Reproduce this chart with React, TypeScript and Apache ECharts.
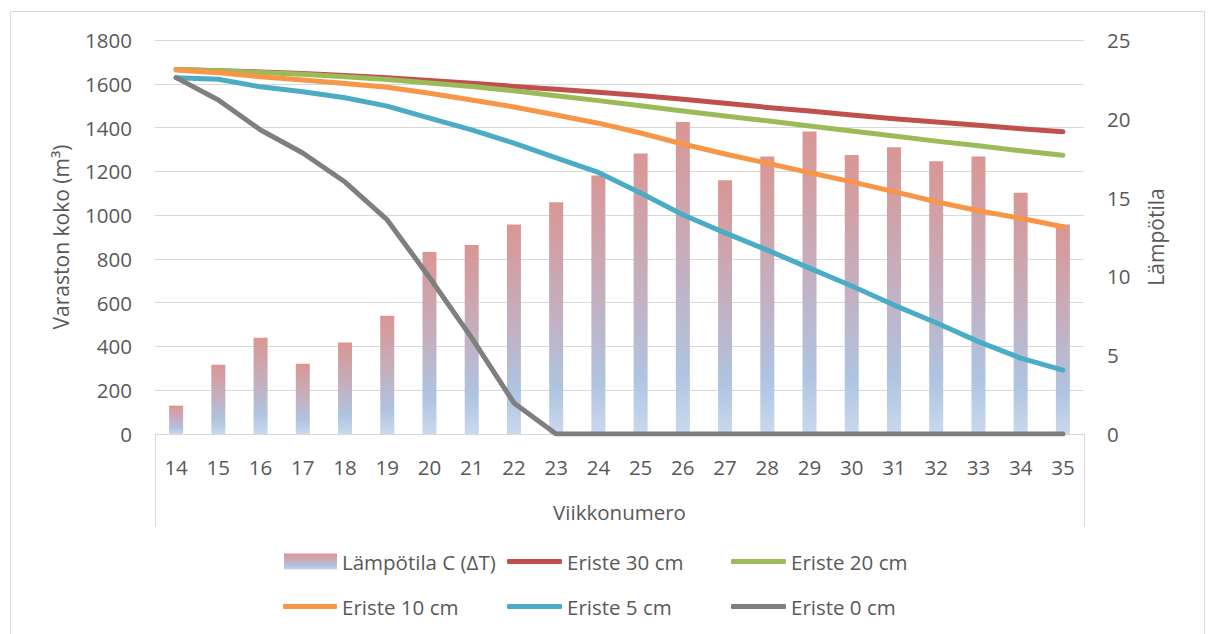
import React, { useEffect, useRef } from "react";
import * as echarts from "echarts";

const weeks = ["14","15","16","17","18","19","20","21","22","23","24","25","26","27","28","29","30","31","32","33","34","35"];
const temperature = [1.8, 4.4, 6.1, 4.45, 5.8, 7.5, 11.55, 12.0, 13.3, 14.7, 16.4, 17.8, 19.8, 16.1, 17.6, 19.2, 17.7, 18.2, 17.3, 17.6, 15.3, 13.3];
const eriste30 = [1665, 1660, 1654, 1647, 1638, 1627, 1615, 1602, 1588, 1575, 1561, 1546, 1529, 1511, 1492, 1476, 1457, 1440, 1425, 1410, 1395, 1381];
const eriste20 = [1665, 1659, 1652, 1643, 1632, 1620, 1604, 1588, 1568, 1545, 1523, 1500, 1476, 1453, 1431, 1407, 1384, 1361, 1338, 1317, 1294, 1273];
const eriste10 = [1663, 1650, 1632, 1617, 1601, 1584, 1557, 1526, 1494, 1457, 1420, 1375, 1325, 1279, 1237, 1194, 1152, 1107, 1061, 1020, 986, 947];
const eriste5 = [1628, 1621, 1586, 1564, 1536, 1498, 1443, 1389, 1329, 1261, 1195, 1101, 1002, 919, 840, 758, 676, 589, 508, 422, 347, 292];
const eriste0 = [1628, 1526, 1389, 1284, 1151, 978, 715, 439, 142, 0, 0, 0, 0, 0, 0, 0, 0, 0, 0, 0, 0, 0];

const FONT = "Open Sans";
const TXT = "#595959";
const GRID_L = 155;
const GRID_R = 1084;
const GRID_T = 40;
const GRID_B = 434;

export default function App() {
  const ref = useRef<HTMLDivElement>(null);
  useEffect(() => {
    if (!ref.current) return;
    const chart = echarts.init(ref.current, null, { renderer: "svg" });
    const barGrad = new echarts.graphic.LinearGradient(0, 0, 0, 1, [
      { offset: 0, color: "#da9694" },
      { offset: 0.45, color: "#c5aebd" },
      { offset: 0.8, color: "#afc4e1" },
      { offset: 1, color: "#c9d9ee" },
    ]);
    const lineSeries = (name: string, data: number[], color: string) => ({
      name,
      type: "line",
      data,
      yAxisIndex: 0,
      symbol: "none",
      showSymbol: false,
      lineStyle: { color, width: 5, cap: "round", join: "round" },
      itemStyle: { color },
      z: 3,
    });
    const textStyle = { fontFamily: FONT, fontSize: 20.5, color: TXT, lineHeight: 20 };
    const lineLegend = (name: string, left: number, top: number, width: number) => ({
      orient: "horizontal",
      left,
      top,
      itemWidth: width,
      itemHeight: 5,
      icon: "roundRect",
      textStyle,
      selectedMode: false,
      data: [name],
    });
    chart.setOption({
      animation: false,
      backgroundColor: "#ffffff",
      textStyle: { fontFamily: FONT },
      grid: { left: GRID_L, right: 1210 - GRID_R, top: GRID_T, bottom: 634 - GRID_B, containLabel: false },
      legend: [
        {
          orient: "horizontal",
          left: 279,
          top: 546,
          itemWidth: 53,
          itemHeight: 16,
          icon: "rect",
          textStyle,
          selectedMode: false,
          data: ["Lämpötila C (ΔT)"],
        },
        lineLegend("Eriste 30 cm", 502, 546, 55),
        lineLegend("Eriste 20 cm", 726, 546, 55),
        lineLegend("Eriste 10 cm", 278, 591, 54),
        lineLegend("Eriste 5 cm", 502, 591, 55),
        lineLegend("Eriste 0 cm", 726, 591, 55),
      ],
      xAxis: {
        type: "category",
        data: weeks,
        boundaryGap: true,
        axisLine: { show: true, lineStyle: { color: "#d9d9d9", width: 1 } },
        axisTick: { show: false },
        axisLabel: { color: TXT, fontFamily: FONT, fontSize: 20.5, margin: 22, interval: 0 },
        name: "Viikkonumero",
        nameLocation: "middle",
        nameGap: 67,
        nameTextStyle: { color: TXT, fontFamily: FONT, fontSize: 20.5 },
      },
      yAxis: [
        {
          type: "value",
          min: 0,
          max: 1800,
          interval: 200,
          position: "left",
          axisLine: { show: false },
          axisTick: { show: false },
          splitLine: { show: true, lineStyle: { color: "#d9d9d9", width: 1 } },
          axisLabel: {
            color: TXT,
            fontFamily: FONT,
            fontSize: 20.5,
            margin: 23,
            formatter: (v: number) => String(v),
          },
          name: "Varaston koko (m³)",
          nameLocation: "middle",
          nameRotate: 90,
          nameGap: 84,
          nameTextStyle: { color: TXT, fontFamily: FONT, fontSize: 21 },
        },
        {
          type: "value",
          min: 0,
          max: 25,
          interval: 5,
          position: "right",
          axisLine: { show: false },
          axisTick: { show: false },
          splitLine: { show: false },
          axisLabel: { color: TXT, fontFamily: FONT, fontSize: 20.5, margin: 23 },
          name: "Lämpötila",
          nameLocation: "middle",
          nameRotate: 90,
          nameGap: 61,
          nameTextStyle: { color: TXT, fontFamily: FONT, fontSize: 21 },
        },
      ],
      graphic: [
        {
          type: "rect",
          silent: true,
          shape: { x: 10.5, y: 11.5, width: 1194, height: 700 },
          style: { fill: "none", stroke: "#d9d9d9", lineWidth: 1 },
          z: -1,
        },
        {
          type: "line",
          silent: true,
          shape: { x1: GRID_L + 0.5, y1: GRID_B, x2: GRID_L + 0.5, y2: 527 },
          style: { stroke: "#d9d9d9", lineWidth: 1 },
        },
        {
          type: "line",
          silent: true,
          shape: { x1: GRID_R + 0.5, y1: GRID_B, x2: GRID_R + 0.5, y2: 527 },
          style: { stroke: "#d9d9d9", lineWidth: 1 },
        },
      ],
      series: [
        {
          name: "Lämpötila C (ΔT)",
          type: "bar",
          data: temperature,
          yAxisIndex: 1,
          barWidth: 14,
          itemStyle: { color: barGrad },
          z: 2,
        },
        lineSeries("Eriste 30 cm", eriste30, "#c0504d"),
        lineSeries("Eriste 20 cm", eriste20, "#9bbb59"),
        lineSeries("Eriste 10 cm", eriste10, "#f79646"),
        lineSeries("Eriste 5 cm", eriste5, "#4bacc6"),
        lineSeries("Eriste 0 cm", eriste0, "#7f7f7f"),
      ],
    });
    return () => chart.dispose();
  }, []);
  return (
    <div
      ref={ref}
      style={{ position: "fixed", left: 0, top: 0, width: 1210, height: 634 }}
    />
  );
}
